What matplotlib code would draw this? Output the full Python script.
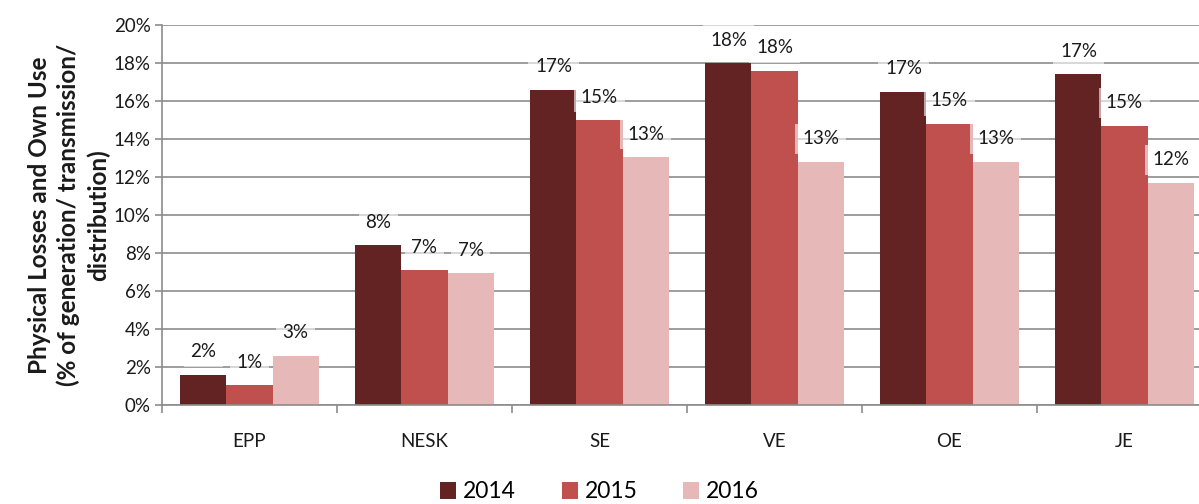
import matplotlib
matplotlib.use("Agg")
import matplotlib.pyplot as plt
import numpy as np
import math

categories = ["EPP", "NESK", "SE", "VE", "OE", "JE"]
years = ["2014", "2015", "2016"]
v2014 = [1.6, 8.4, 16.6, 18.0, 16.5, 17.4]
v2015 = [1.05, 7.1, 15.0, 17.6, 14.8, 14.7]
v2016 = [2.6, 6.95, 13.05, 12.8, 12.8, 11.7]
colors = ["#632323", "#C0504D", "#E6B9B8"]
yticks = [0, 2, 4, 6, 8, 10, 12, 14, 16, 18, 20]

plt.rcParams['font.family'] = ['Lato', 'DejaVu Sans']

fig = plt.figure(figsize=(11.99, 5.04), dpi=100)
W, H = 1199, 504
ax = fig.add_axes([162 / W, (H - 405) / H, 1050 / W, 380 / H])

x = np.arange(len(categories))
bw = 0.263
series = [v2014, v2015, v2016]
for i, (vals, c, yr) in enumerate(zip(series, colors, years)):
    pos = x + (i - 1) * bw
    ax.bar(pos, vals, width=bw, color=c, label=yr, zorder=2)
    for p, v in zip(pos, vals):
        ax.annotate(f"{int(math.floor(v + 0.5))}%", xy=(p, v), xytext=(0, 16.5),
                    textcoords="offset points", ha="center", va="center",
                    fontsize=13.5, color="#1a1a1a", zorder=5,
                    bbox=dict(boxstyle="square,pad=0.35", fc="white", ec="none", alpha=0.6))

ax.set_xlim(-0.5, len(categories) - 0.5)
ax.set_ylim(0, 20)
ax.set_yticks(yticks)
ax.set_yticklabels([f"{t}%" for t in yticks], fontsize=13.5, color="#1a1a1a")
ax.yaxis.grid(True, color="#8c8c8c", linewidth=1.2, zorder=0)
ax.set_axisbelow(True)

ax.set_xticks(x)
ax.set_xticklabels(categories, fontsize=13.5, color="#1a1a1a")
ax.tick_params(axis="x", length=0, pad=20)
ax.set_xticks(np.arange(-0.5, len(categories) + 0.5, 1), minor=True)
ax.tick_params(axis="x", which="minor", length=6, color="#8c8c8c", width=1.2)
ax.tick_params(axis="y", length=5, color="#8c8c8c", width=1.2, pad=3)

for s in ["top", "right"]:
    ax.spines[s].set_visible(False)
for s in ["left", "bottom"]:
    ax.spines[s].set_color("#8c8c8c")
    ax.spines[s].set_linewidth(1.2)

ax.set_ylabel("Physical Losses and Own Use\n(% of generation/ transmission/\ndistribution)",
              fontsize=17.5, fontweight="bold", color="#1a1a1a", labelpad=3, linespacing=1.3)

fig.legend(loc="center", bbox_to_anchor=(0.5, (H - 492) / H), ncol=3, frameon=False,
           fontsize=16.5, handlelength=0.7, handleheight=0.7, handletextpad=0.3,
           columnspacing=2.0)

fig.savefig("out.png", dpi=100)
